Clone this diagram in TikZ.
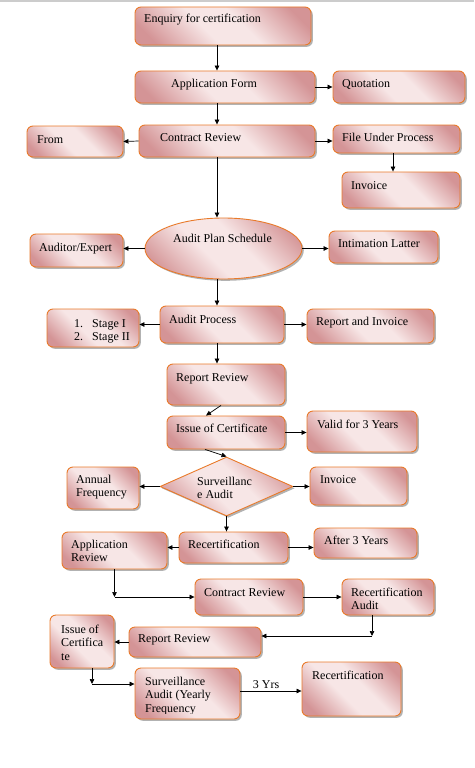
\documentclass[tikz,border=0pt]{standalone}
\usepackage{fontspec}
\setmainfont{Liberation Serif}
\usetikzlibrary{arrows.meta,shapes.geometric,shadows}
\definecolor{rosedk}{RGB}{212,148,150}
\definecolor{roselt}{RGB}{247,230,230}
\definecolor{boxline}{RGB}{233,122,42}
\pgfdeclarehorizontalshading{rosebox}{100bp}{color(0bp)=(rosedk); color(22bp)=(rosedk); color(43bp)=(roselt); color(57bp)=(roselt); color(78bp)=(rosedk); color(100bp)=(rosedk)}
\begin{document}
\begin{tikzpicture}[x=1pt,y=-1pt,
  box/.style={draw=boxline,line width=.9pt,rounded corners=6pt,shading=rosebox,shading angle=45,
    drop shadow={shadow xshift=1.8pt,shadow yshift=-1.8pt,fill=black,opacity=.3},inner sep=0pt},
  oval/.style={box,ellipse,sharp corners},
  rhomb/.style={box,diamond,sharp corners},
  wh/.style 2 args={minimum width=#1pt,minimum height=#2pt},
  txt/.style={anchor=base west,inner sep=0pt,align=left,font=\fontsize{12}{13.5}\selectfont},
  arr/.style={draw,line width=.7pt,-{Triangle[length=5pt,width=4.5pt]}}]
\useasboundingbox (0,0) rectangle (474,768);
\fill[gray!40] (0,0) rectangle (474,2.5);
% boxes
\node[box,wh={176}{38}] (enq) at (223,26) {};
\node[box,wh={180}{32}] (app) at (225,87) {};
\node[box,wh={132}{32}] (quot) at (399,87) {};
\node[box,wh={176}{32}] (crev) at (227,141) {};
\node[box,wh={96}{31}] (from) at (75,141.5) {};
\node[box,wh={127}{28}] (file) at (396.5,139) {};
\node[box,wh={118}{36}] (inv) at (401,190) {};
\node[oval,wh={157}{61}] (aps) at (223.5,248.5) {};
\node[box,wh={93}{33}] (aud) at (76.5,250.5) {};
\node[box,wh={109}{32}] (intim) at (383.5,247) {};
\node[box,wh={124}{37}] (aproc) at (222,324.5) {};
\node[box,wh={92}{38}] (stage) at (93,328) {};
\node[box,wh={127}{34}] (rinv) at (370.5,326) {};
\node[box,wh={118}{41}] (rrev) at (226,384.5) {};
\node[box,wh={118}{33}] (icert) at (226,432.5) {};
\node[box,wh={110}{41}] (valid) at (362,431.5) {};
\node[rhomb,wh={133}{59}] (saud) at (226.5,486.5) {};
\node[box,wh={72}{42}] (annual) at (103,488) {};
\node[box,wh={97}{38}] (inv2) at (358.5,486) {};
\node[box,wh={109}{31}] (recert) at (233.5,547.5) {};
\node[box,wh={105}{37}] (aprev) at (114.5,550.5) {};
\node[box,wh={103}{30}] (after) at (365.5,543) {};
\node[box,wh={108}{36}] (crev2) at (249,597) {};
\node[box,wh={92}{36}] (raud) at (388,597) {};
\node[box,wh={132}{30}] (rrev2) at (195,642) {};
\node[box,wh={64}{53}] (icert2) at (82,641.5) {};
\node[box,wh={105}{51}] (saud2) at (187.5,693.5) {};
\node[box,wh={99}{54}] (recert2) at (351.5,689) {};
% texts (multi-line: base is the last line)
\node[txt] (t-enq) at (144,23) {Enquiry for certification};
\node[txt] (t-app) at (171,87) {Application Form};
\node[txt] (t-quot) at (342,87) {Quotation};
\node[txt] (t-from) at (37,143) {From};
\node[txt] (t-crev) at (160,141) {Contract Review};
\node[txt] (t-file) at (342,141) {File Under Process};
\node[txt] (t-inv) at (351,189) {Invoice};
\node[txt] (t-aps) at (173,242) {Audit Plan Schedule};
\node[txt] (t-aud) at (39,251) {Auditor/Expert};
\node[txt] (t-intim) at (338,247) {Intimation Latter};
\node[txt] (t-stage) at (74,340.5) {\makebox[18pt][l]{1.}Stage I\\\makebox[18pt][l]{2.}Stage II};
\node[txt] (t-aproc) at (169,323) {Audit Process};
\node[txt] (t-rinv) at (316,325) {Report and Invoice};
\node[txt] (t-rrev) at (176,381) {Report Review};
\node[txt] (t-icert) at (176,432) {Issue of Certificate};
\node[txt] (t-valid) at (317,428) {Valid for 3 Years};
\node[txt] (t-saud) at (197,498.5) {Surveillanc\\e Audit};
\node[txt] (t-annual) at (76,496.5) {Annual\\Frequency};
\node[txt] (t-inv2) at (320,483) {Invoice};
\node[txt] (t-recert) at (188,548) {Recertification};
\node[txt] (t-aprev) at (71,561.5) {Application\\Review};
\node[txt] (t-after) at (324,544) {After 3 Years};
\node[txt] (t-crev2) at (204,596) {Contract Review};
\node[txt] (t-raud) at (351,609.5) {Recertification\\Audit};
\node[txt] (t-icert2) at (61,660) {Issue of\\Certifica\\te};
\node[txt] (t-rrev2) at (138,642) {Report Review};
\begin{scope}
  \clip (135,668) rectangle (240,713.5);
  \node[txt] (t-saud2) at (145,712) {Surveillance\\Audit (Yearly\\Frequency};
\end{scope}
\node[txt] (t-recert2) at (312,679) {Recertification};
% connectors
\coordinate (spine) at (217,0);
\draw[arr] (enq.south -| spine) -- (app.north -| spine);
\draw[arr] (app.east) -- (quot.west);
\draw[arr] (app.south -| spine) -- (crev.north -| spine);
\draw[arr] (crev.west) -- (from.east);
\draw[arr] (crev.east) -- (crev.east -| file.west);
\draw[arr] ([xshift=-3.5pt]file.south) -- ([xshift=-3.5pt]file.south |- inv.north);
\draw[arr] (crev.south -| spine) -- (aps.north -| spine);
\draw[arr] (aps.west) -- (aps.west -| aud.east);
\draw[arr] (aps.east) -- (aps.east -| intim.west);
\draw[arr] (aps.south -| spine) -- (aproc.north -| spine);
\draw[arr] (aproc.west) -- (aproc.west -| stage.east);
\draw[arr] (aproc.east) -- (aproc.east -| rinv.west);
\draw[arr] (aproc.south -| spine) -- (rrev.north -| spine);
\draw[arr] ([xshift=-5pt]rrev.south) -- ([xshift=-20pt]icert.north);
\draw[arr] (icert.east) -- (icert.east -| valid.west);
\draw[arr] ([xshift=-21pt]icert.south) -- (saud.north);
\draw[arr] (saud.west) -- (saud.west -| annual.east);
\draw[arr] (saud.east) -- (saud.east -| inv2.west);
\draw[arr] (saud.south) -- (saud.south |- recert.north);
\draw[arr] (recert.west) -- (recert.west -| aprev.east);
\draw[arr] (recert.east) -- (recert.east -| after.west);
\coordinate (k1) at (aprev.south |- crev2.west);
\draw[arr] (aprev.south) -- (k1);
\draw[arr] (k1) -- (crev2.west);
\draw[arr] (crev2.east) -- (raud.west);
\coordinate (k2) at (372,636);
\draw[arr] (raud.south -| k2) -- (k2);
\draw[arr] (k2) -- (k2 -| rrev2.east);
\draw[arr] (rrev2.west) -- (rrev2.west -| icert2.east);
\coordinate (k3) at (92,684);
\draw[arr] (icert2.south -| k3) -- (k3);
\draw[arr] (k3) -- (k3 -| saud2.west);
\draw[arr] ([yshift=2.5pt]saud2.east) -- node[txt,anchor=base,pos=.42,yshift=3pt] (t-3yrs) {3 Yrs} ([yshift=2.5pt]saud2.east -| recert2.west);
\end{tikzpicture}
\end{document}
